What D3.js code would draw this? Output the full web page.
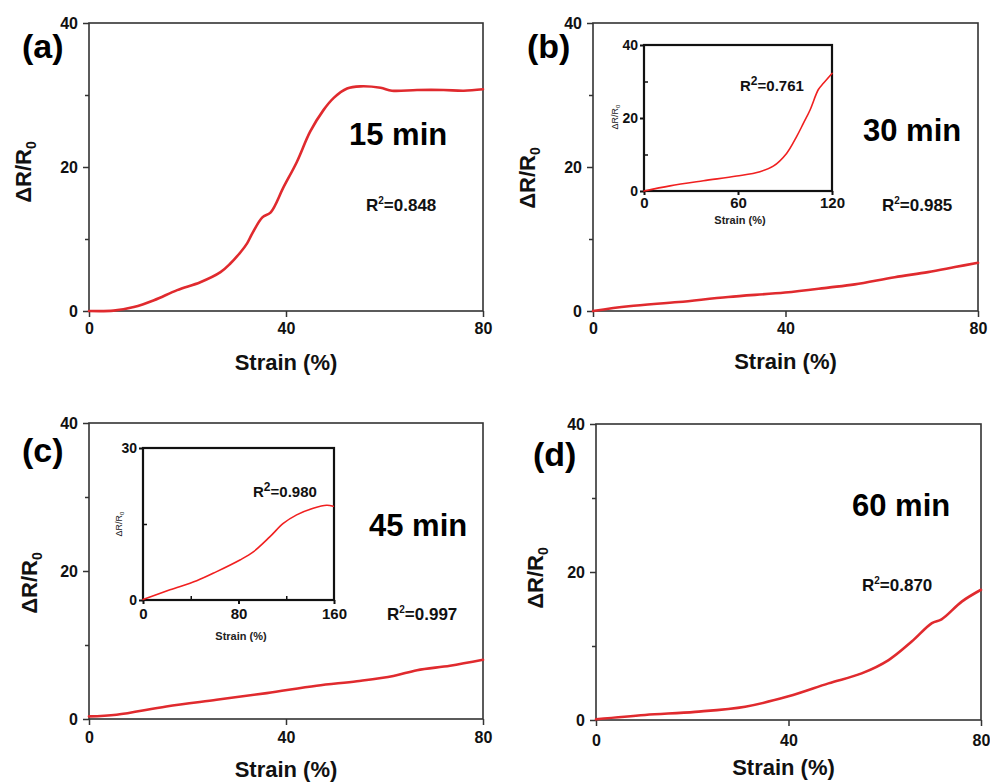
<!DOCTYPE html>
<html><head><meta charset="utf-8">
<script src="https://cdn.jsdelivr.net/npm/d3@7"></script>
<style>
body{margin:0;background:#fff;}
text{font-family:"Liberation Sans",Arial,sans-serif;}
</style></head>
<body><svg id="c" width="990" height="783"></svg>
<script>
// ---- data ----
const xTicksMain = [0, 40, 80];
const yTicksMain = [0, 20, 40];
const yMinorMain = [10, 30];

const strainA = [0, 5, 9.1, 13.2, 17.9, 22.6, 26.7, 28.7, 30.8, 32.1, 33.1, 35.2, 36.9, 39.5, 42.2, 44.9, 47.6, 49.7, 52.4, 55.1, 59.2, 61.5, 66.6, 72, 76.1, 80];
const resistA = [0, 0.05, 0.55, 1.5, 2.9, 4.0, 5.4, 6.6, 8.2, 9.4, 10.7, 13.0, 13.7, 17.2, 20.7, 24.9, 27.9, 29.6, 30.9, 31.2, 31.0, 30.6, 30.7, 30.7, 30.6, 30.8];

const strainB = [0, 7.4, 17.8, 28.1, 39.9, 48.9, 54.4, 62.7, 69.6, 75.2, 80];
const resistB = [0, 0.65, 1.25, 1.95, 2.56, 3.25, 3.7, 4.7, 5.4, 6.1, 6.7];
const strainBin = [0, 16.6, 37.9, 59.2, 74, 82.5, 91, 97.4, 101.7, 106, 111.3, 114.5, 120];
const resistBin = [0, 1.4, 2.8, 4.1, 5.3, 6.8, 10.3, 14.9, 18.5, 22.2, 27.8, 29.5, 32.2];

const strainC = [0, 5.6, 15.7, 25.9, 36.1, 46.2, 54.4, 61.8, 66.6, 73.3, 80];
const resistC = [0.35, 0.58, 1.7, 2.6, 3.5, 4.5, 5.1, 5.8, 6.6, 7.2, 8.0];
const strainCin = [0, 22.6, 45, 61.7, 81.2, 92.4, 106.4, 117.5, 128.7, 142.6, 153.8, 159.4];
const resistCin = [0.1, 2.0, 3.8, 5.6, 7.9, 9.5, 12.5, 15.1, 16.8, 18.1, 18.7, 18.5];

const strainD = [0, 10.2, 20.6, 31, 40, 48.3, 55.2, 60.8, 65.6, 69.8, 71.8, 76, 80];
const resistD = [0.1, 0.68, 1.1, 1.8, 3.2, 4.95, 6.3, 8.1, 10.6, 13.1, 13.6, 16, 17.6];

const panelLabels = ["(a)", "(b)", "(c)", "(d)"];
const timeLabels = ["15 min", "30 min", "45 min", "60 min"];
const r2Main = ["0.848", "0.985", "0.997", "0.870"];
const r2Inset = ["0.761", "0.980"];

// ---- drawing ----
const svg = d3.select("#c");
const RED = "#e02a2e";

function zipData(xs, ys){ return xs.map((x,i)=>({x, y: ys[i]})); }

function frame(g, x, y, stroke, sw){
  const [x0,x1] = x.range(), [y0,y1] = y.range();
  g.append("rect").attr("x", x0).attr("y", y1).attr("width", x1-x0).attr("height", y0-y1)
    .attr("fill","none").attr("stroke", stroke).attr("stroke-width", sw);
}

function drawLine(g, x, y, data, color, w){
  g.append("path").datum(data)
    .attr("fill","none").attr("stroke", color).attr("stroke-width", w)
    .attr("stroke-linejoin","round").attr("stroke-linecap","round")
    .attr("d", d3.line().x(d=>x(d.x)).y(d=>y(d.y)).curve(d3.curveCatmullRom.alpha(0.5)));
}

function styleAxis(ax, sw, color, fs){
  ax.select(".domain").remove();
  ax.selectAll(".tick line").attr("stroke", color).attr("stroke-width", sw);
  ax.selectAll(".tick text").attr("font-size", fs).attr("font-weight","bold").attr("fill","#111")
    .attr("font-family", '"Liberation Sans",Arial,sans-serif');
}

function mainPanel(o){
  const g = svg.append("g");
  const x = d3.scaleLinear().domain([0,80]).range([o.x0, o.x1]);
  const y = d3.scaleLinear().domain([0,40]).range([o.y1, o.y0]);
  const axX = g.append("g").attr("transform",`translate(0,${o.y1})`)
    .call(d3.axisBottom(x).tickValues(xTicksMain).tickSize(6).tickPadding(6).tickFormat(d3.format("d")));
  styleAxis(axX, 1.5, "#333", 16);
  axX.selectAll(".tick text").attr("dy", null).attr("y", o.xlabY - o.y1).attr("dominant-baseline","auto");
  const axY = g.append("g").attr("transform",`translate(${o.x0},0)`)
    .call(d3.axisLeft(y).tickValues(yTicksMain).tickSize(6).tickPadding(5).tickFormat(d3.format("d")));
  styleAxis(axY, 1.5, "#333", 16);
  g.append("g").attr("transform",`translate(${o.x0},0)`)
    .call(d3.axisLeft(y).tickValues(yMinorMain).tickSize(4).tickFormat(""))
    .call(a=>{a.select(".domain").remove(); a.selectAll("line").attr("stroke","#333").attr("stroke-width",1.5);});
  frame(g, x, y, "#333", 1.6);
  drawLine(g, x, y, o.data, RED, 2.6);
  // texts
  g.append("text").attr("x", o.lab[0]).attr("y", o.lab[1]).attr("font-size", 34).attr("font-weight","bold").text(o.label);
  g.append("text").attr("x", o.tm[0]).attr("y", o.tm[1]).attr("font-size", 31).attr("font-weight","bold").text(o.time);
  const r = g.append("text").attr("x", o.r2[0]).attr("y", o.r2[1]).attr("font-size", 17).attr("font-weight","bold").attr("fill","#111");
  r.append("tspan").text("R");
  r.append("tspan").attr("font-size", 10).attr("dy", -7).text("2");
  r.append("tspan").attr("dy", 7).text("=" + o.r2v);
  g.append("text").attr("x", (o.x0+o.x1)/2 + o.sxOff).attr("y", o.sx).attr("font-size", 22).attr("font-weight","bold")
    .attr("text-anchor","middle").attr("fill","#111").text("Strain (%)");
  const yt = g.append("text").attr("transform", `translate(${o.yt[0]},${o.yt[1]}) rotate(-90)`)
    .attr("font-size", 22).attr("font-weight","bold").attr("text-anchor","middle").attr("fill","#111");
  yt.append("tspan").text("ΔR/R");
  yt.append("tspan").attr("font-size", 14).attr("dy", 5).text("0");
}

function inset(o){
  const g = svg.append("g");
  const x = d3.scaleLinear().domain(o.xd).range([o.x0, o.x1]);
  const y = d3.scaleLinear().domain(o.yd).range([o.y1, o.y0]);
  g.append("rect").attr("x",o.x0).attr("y",o.y0).attr("width",o.x1-o.x0).attr("height",o.y1-o.y0).attr("fill","#fff");
  const axX = g.append("g").attr("transform",`translate(0,${o.y1})`)
    .call(d3.axisBottom(x).tickValues(o.xt).tickSize(4).tickPadding(5).tickFormat(d3.format("d")));
  styleAxis(axX, 2, "#111", 15);
  axX.selectAll(".tick text").attr("dy", null).attr("y", o.xlabY - o.y1);
  const axY = g.append("g").attr("transform",`translate(${o.x0},0)`)
    .call(d3.axisLeft(y).tickValues(o.yt).tickSize(4).tickPadding(2).tickFormat(d3.format("d")));
  styleAxis(axY, 2, "#111", 14);
  g.append("g").attr("transform",`translate(${o.x0},0)`)
    .call(d3.axisRight(y).tickValues(o.ym).tickSize(4).tickFormat(""))
    .call(a=>{a.select(".domain").remove(); a.selectAll("line").attr("stroke","#111").attr("stroke-width",1.5);});
  if (o.xm.length) g.append("g").attr("transform",`translate(0,${o.y1})`)
    .call(d3.axisTop(x).tickValues(o.xm).tickSize(4).tickFormat(""))
    .call(a=>{a.select(".domain").remove(); a.selectAll("line").attr("stroke","#111").attr("stroke-width",1.5);});
  frame(g, x, y, "#111", 2.2);
  drawLine(g, x, y, o.data, "#f02020", 1.6);
  const r = g.append("text").attr("x", o.r2[0]).attr("y", o.r2[1]).attr("font-size", 15).attr("font-weight","bold").attr("fill","#111");
  r.append("tspan").text("R");
  r.append("tspan").attr("font-size", 12).attr("dy", -6).text("2");
  r.append("tspan").attr("dy", 6).text("=" + o.r2v);
  g.append("text").attr("x", o.st[0]).attr("y", o.st[1]).attr("font-size", 11).attr("font-weight","bold")
    .attr("text-anchor","middle").attr("fill","#222").text("Strain (%)");
  const yt = g.append("text").attr("transform", `translate(${o.ytl[0]},${o.ytl[1]}) rotate(-90)`)
    .attr("font-size", 9).attr("text-anchor","middle").attr("fill","#222");
  yt.append("tspan").text("ΔR/R");
  yt.append("tspan").attr("font-size", 6).attr("dy", 2).text("0");
}

mainPanel({x0:89, x1:483, y0:23, y1:311, xlabY:334, data:zipData(strainA,resistA), label:panelLabels[0], lab:[22,58],
  time:timeLabels[0], tm:[349,145], r2v:r2Main[0], r2:[366,211], sx:370, sxOff:0, yt:[31,172]});
mainPanel({x0:593, x1:978, y0:23, y1:311, xlabY:334, data:zipData(strainB,resistB), label:panelLabels[1], lab:[527,58],
  time:timeLabels[1], tm:[863,141], r2v:r2Main[1], r2:[882,211], sx:369, sxOff:0, yt:[535,178]});
mainPanel({x0:89, x1:483, y0:423, y1:719, xlabY:743, data:zipData(strainC,resistC), label:panelLabels[2], lab:[22,462],
  time:timeLabels[2], tm:[369,536], r2v:r2Main[2], r2:[387,620], sx:777, sxOff:0, yt:[37,583]});
mainPanel({x0:596, x1:981, y0:424, y1:720, xlabY:746, data:zipData(strainD,resistD), label:panelLabels[3], lab:[533,466],
  time:timeLabels[3], tm:[852,516], r2v:r2Main[3], r2:[862,591], sx:775, sxOff:-5, yt:[543,578]});

inset({x0:644, x1:832, y0:45, y1:191, xd:[0,120], yd:[0,40], xt:[0,60,120], yt:[0,20,40], xm:[], ym:[10,30],
  xlabY:208, data:zipData(strainBin,resistBin), r2v:r2Inset[0], r2:[740,91], st:[740,224], ytl:[618,117]});
inset({x0:143, x1:334, y0:448, y1:600, xd:[0,160], yd:[0,30], xt:[0,80,160], yt:[0,30], xm:[40,120], ym:[15],
  xlabY:619, data:zipData(strainCin,resistCin), r2v:r2Inset[1], r2:[253,497], st:[241,640], ytl:[122,524]});
</script></body></html>
